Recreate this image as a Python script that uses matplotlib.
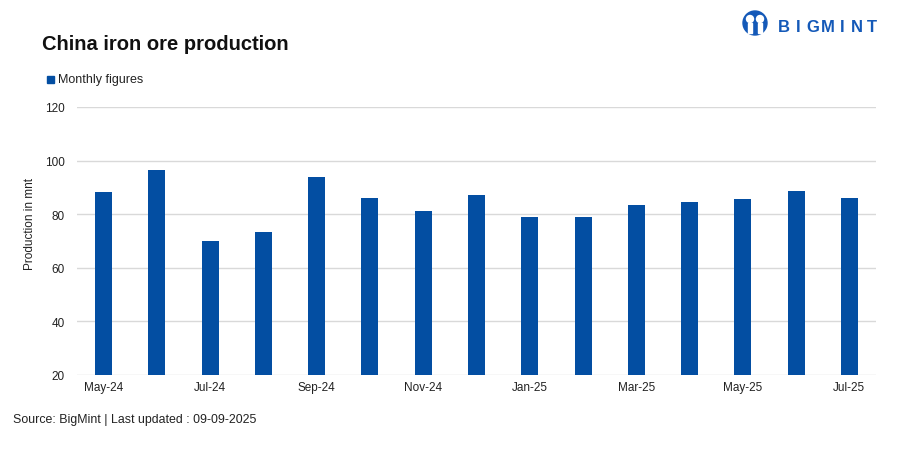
import matplotlib
matplotlib.use("Agg")
import matplotlib.pyplot as plt
from matplotlib.patches import Ellipse, Rectangle

months = ["May-24", "Jun-24", "Jul-24", "Aug-24", "Sep-24", "Oct-24", "Nov-24", "Dec-24",
          "Jan-25", "Feb-25", "Mar-25", "Apr-25", "May-25", "Jun-25", "Jul-25"]
production = [88.3, 96.5, 70.0, 73.4, 93.9, 86.0, 81.2, 87.2, 79.0, 79.0, 83.4, 84.6, 85.7, 88.7, 86.0]
yticks = [20, 40, 60, 80, 100, 120]

BLUE = "#034EA2"
plt.rcParams['font.family'] = ['Liberation Sans', 'DejaVu Sans']

W, H = 908, 460
fig = plt.figure(figsize=(W/100, H/100), dpi=100)
ax = fig.add_axes([77/W, 1-376/H, 799/W, 268/H])

x = list(range(len(months)))
ax.bar(x, [v - 20 for v in production], bottom=20, width=0.32, color=BLUE, zorder=3)
ax.set_xlim(-0.5, len(months) - 0.5)
ax.set_ylim(20, 120)
ax.set_yticks(yticks)
ax.set_yticklabels([str(t) for t in yticks], fontsize=8.5, color="#222222")
ax.set_xticks(x[::2])
ax.set_xticklabels(months[::2], fontsize=8.5, color="#222222", va='baseline')
ax.tick_params(axis='y', length=0, pad=9)
ax.tick_params(axis='x', length=0, pad=11)
ax.grid(axis='y', color="#d9d9d9", linewidth=1, zorder=0)
for s in ax.spines.values():
    s.set_visible(False)
ax.set_ylabel("Production in mnt", fontsize=8.5, color="#222222")
ax.yaxis.set_label_coords((36-77)/799, (376-224)/268)

fig.text(42/W, 1-44/H, "China iron ore production", fontsize=14.5, fontweight='bold',
         va='center', ha='left', color="#111111")
fig.patches.append(Rectangle((47/W, 1-84/H), 7/W, 7/H, transform=fig.transFigure,
                             color=BLUE, figure=fig))
fig.text(58/W, 1-80/H, "Monthly figures", fontsize=9, va='center', ha='left', color="#222222")
fig.text(13/W, 1-420/H, "Source: BigMint | Last updated : 09-09-2025", fontsize=8.9,
         va='center', ha='left', color="#222222")

# Logo
LOGO = "#1459B8"
fig.patches.append(Ellipse((755/W, 1-24/H), 24/W, 24/H, transform=fig.transFigure,
                           color=LOGO, figure=fig))
for cx in (750, 760):
    fig.patches.append(Ellipse((cx/W, 1-20/H), 7/W, 7/H, transform=fig.transFigure,
                               color="white", figure=fig))
    fig.patches.append(Rectangle(((cx-2)/W, 1-34/H), 4/W, 10/H, transform=fig.transFigure,
                                 color="white", figure=fig))
for i, ch in enumerate("BIGMINT"):
    fig.text((784 + i*14.6)/W, 1-27/H, ch, fontsize=12, fontweight='bold', color=LOGO,
             va='center', ha='center')

fig.savefig("out.png", dpi=100)
